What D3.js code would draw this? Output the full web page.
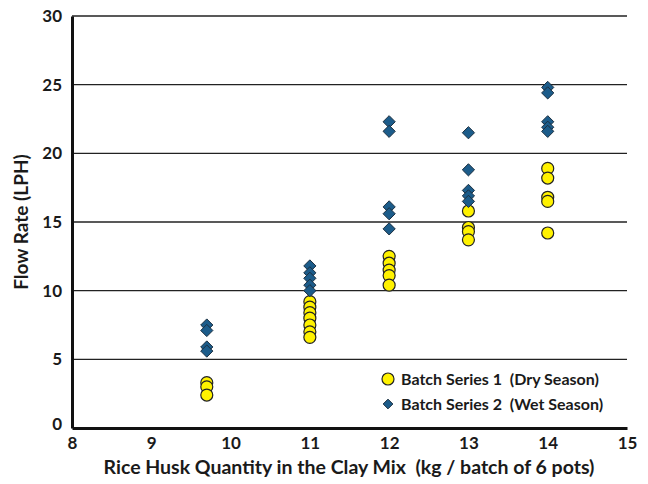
<!DOCTYPE html>
<html>
<head>
<meta charset="utf-8">
<script src="https://cdn.jsdelivr.net/npm/d3@7"></script>
<style>
  body { margin: 0; background: #fff; }
  text { font-family: Lato, "Open Sans", sans-serif; font-weight: bold; fill: #1a1a1a; white-space: pre; }
</style>
</head>
<body>
<svg id="chart" width="648" height="484"></svg>
<script>
// x position of each batch group
var batchX = [9.7, 11, 12, 13, 14]

// Batch Series 1 (Dry Season), one list per batch
var drySeason = [
  [3.3, 3.0, 2.4],
  [9.2, 8.8, 8.4, 8.0, 7.5, 7.0, 6.6],
  [12.5, 12.0, 11.5, 11.1, 10.4],
  [15.8, 14.6, 14.3, 13.7],
  [18.9, 18.2, 16.8, 16.5, 14.2]
]

// Batch Series 2 (Wet Season)
var wetSeason = [
  [7.5, 7.1, 5.9, 5.6],
  [11.8, 11.3, 10.9, 10.4, 10.0],
  [22.3, 21.6, 16.1, 15.6, 14.5],
  [21.5, 18.8, 17.3, 16.9, 16.5],
  [24.8, 24.4, 22.3, 21.9, 21.6]
]

var xTicks = [8, 9, 10, 11, 12, 13, 14, 15]
var yTicks = [0, 5, 10, 15, 20, 25, 30]
var legendLabels = ["Batch Series 1  (Dry Season)", "Batch Series 2  (Wet Season)"]

var svg = d3.select("#chart")

var x = d3.scaleLinear().domain([8, 15]).range([72, 627])
var y = d3.scaleLinear().domain([0, 30]).range([428, 16])

// Grid lines
svg.append("g").selectAll("line").data(yTicks.slice(1))
  .enter().append("line")
  .attr("x1", x(8)).attr("x2", x(15))
  .attr("y1", d => y(d)).attr("y2", d => y(d))
  .attr("stroke", "#222").attr("stroke-width", 1.3)

// Axes
var xAxis = svg.append("g").attr("transform", `translate(0,${y(0)})`)
  .call(d3.axisBottom(x).tickValues(xTicks).tickFormat(d3.format("d")).tickSize(0).tickPadding(9))
xAxis.select(".domain").attr("stroke", "#111").attr("stroke-width", 3)
xAxis.selectAll("text").style("font-size", "17px").attr("fill", "#1a1a1a")

var yAxis = svg.append("g").attr("transform", `translate(${x(8)},0)`)
  .call(d3.axisLeft(y).tickValues(yTicks).tickSize(0).tickPadding(10))
yAxis.select(".domain").attr("stroke", "#111").attr("stroke-width", 3)
yAxis.selectAll("text").style("font-size", "17px").attr("fill", "#1a1a1a")
  .attr("dy", d => d == 0 ? "0.1em" : "0.32em")

// Axis titles
svg.append("text")
  .attr("x", 349).attr("y", 474)
  .attr("text-anchor", "middle")
  .style("font-size", "19.5px")
  .text("Rice Husk Quantity in the Clay Mix  (kg / batch of 6 pots)")

svg.append("text")
  .attr("transform", `translate(28,${y(15)}) rotate(-90)`)
  .attr("text-anchor", "middle")
  .style("font-size", "19px")
  .text("Flow Rate (LPH)")

var diamond = d3.symbol().type(d3.symbolDiamond2).size(95)

// Points
var wetPts = [], dryPts = []
batchX.forEach((bx, i) => {
  wetSeason[i].forEach(v => wetPts.push([bx, v]))
  drySeason[i].forEach(v => dryPts.push([bx, v]))
})

svg.append("g").selectAll("circle").data(dryPts)
  .enter().append("circle")
  .attr("cx", d => x(d[0])).attr("cy", d => y(d[1]))
  .attr("r", 6)
  .attr("fill", "#fff200").attr("stroke", "#222").attr("stroke-width", 1.2)

svg.append("g").selectAll("path").data(wetPts)
  .enter().append("path")
  .attr("d", diamond)
  .attr("transform", d => `translate(${x(d[0])},${y(d[1])})`)
  .attr("fill", "#1c5c8a").attr("stroke", "#1b2f40").attr("stroke-width", 1)

// Legend
var lg = svg.append("g")
lg.append("circle").attr("cx", 388).attr("cy", 379).attr("r", 6)
  .attr("fill", "#fff200").attr("stroke", "#222").attr("stroke-width", 1.2)
lg.append("path").attr("d", d3.symbol().type(d3.symbolDiamond2).size(60))
  .attr("transform", "translate(388,404)")
  .attr("fill", "#1c5c8a").attr("stroke", "#1b2f40")
lg.selectAll("text").data(legendLabels)
  .enter().append("text")
  .attr("x", 401).attr("y", (d, i) => 384.5 + i * 25)
  .style("font-size", "16px")
  .text(d => d)
</script>
</body>
</html>
